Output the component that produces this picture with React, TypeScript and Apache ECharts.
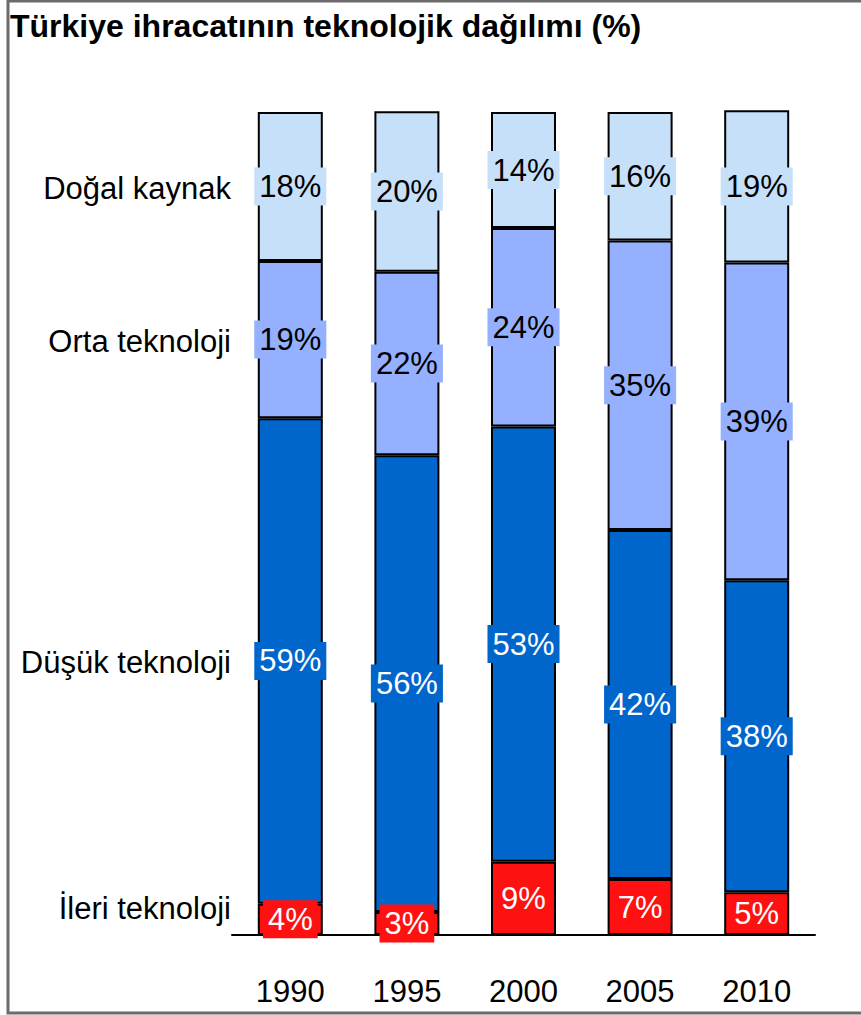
import React, { useEffect, useRef } from "react";
import * as echarts from "echarts";

const years = ["1990", "1995", "2000", "2005", "2010"];
const seriesNames = ["İleri teknoloji", "Düşük teknoloji", "Orta teknoloji", "Doğal kaynak"];
const ileri = [3.8, 2.8, 8.9, 6.8, 5.2];
const dusuk = [59.0, 55.5, 52.9, 42.4, 37.9];
const orta = [19.1, 22.3, 24.1, 35.2, 38.6];
const dogal = [18.1, 19.5, 14.1, 15.6, 18.5];
const title = "Türkiye ihracatının teknolojik dağılımı (%)";

const colors = ["#FF1111", "#0066CC", "#95B0FF", "#C6E0FA"];
const textColors = ["#ffffff", "#ffffff", "#000000", "#000000"];
const leftLabelY = [908, 662, 341, 188];

export default function App() {
  const ref = useRef<HTMLDivElement>(null);
  useEffect(() => {
    if (!ref.current) return;
    const chart = echarts.init(ref.current, null, { renderer: "svg" });
    const data = [ileri, dusuk, orta, dogal];
    const font = "'Liberation Sans', Arial, sans-serif";
    chart.setOption({
      animation: false,
      backgroundColor: "#ffffff",
      grid: { left: 232, right: 46, top: 112, bottom: 80 },
      xAxis: {
        type: "category",
        data: years,
        axisLine: { show: true, lineStyle: { color: "#000", width: 2 } },
        axisTick: { show: false },
        axisLabel: { color: "#000", fontSize: 31, fontFamily: font, margin: 41 },
      },
      yAxis: {
        type: "value",
        min: 0,
        max: 100,
        show: false,
        splitLine: { show: false },
      },
      series: data.map((d, i) => ({
        name: seriesNames[i],
        type: "bar",
        stack: "total",
        barWidth: 65,
        clip: false,
        data: d,
        itemStyle: { color: colors[i], borderColor: "#000", borderWidth: 2 },
        label: {
          show: true,
          position: "inside",
          formatter: (p: any) => Math.round(p.value) + "%",
          color: textColors[i],
          fontSize: 31,
          fontFamily: font,
          backgroundColor: colors[i],
          padding: [4, 5, 3, 5],
        },
      })),
      graphic: [
        {
          type: "rect",
          shape: { x: 8, y: 1, width: 900, height: 1012 },
          style: { fill: "none", stroke: "#6b6b6b", lineWidth: 3 },
          silent: true,
        },
        {
          type: "text",
          x: 10,
          y: 26,
          style: {
            text: title,
            fontSize: 32,
            fontWeight: "bold",
            fontFamily: font,
            fill: "#000",
            verticalAlign: "middle",
            align: "left",
          },
        },
        ...seriesNames.map((n, i) => ({
          type: "text",
          x: 231,
          y: leftLabelY[i],
          style: {
            text: n,
            fontSize: 31,
            fontFamily: font,
            fill: "#000",
            align: "right",
            verticalAlign: "middle",
          },
        })),
      ],
    });
    return () => chart.dispose();
  }, []);
  return (
    <div
      ref={ref}
      style={{ position: "absolute", left: 0, top: 0, width: 861, height: 1015 }}
    />
  );
}
